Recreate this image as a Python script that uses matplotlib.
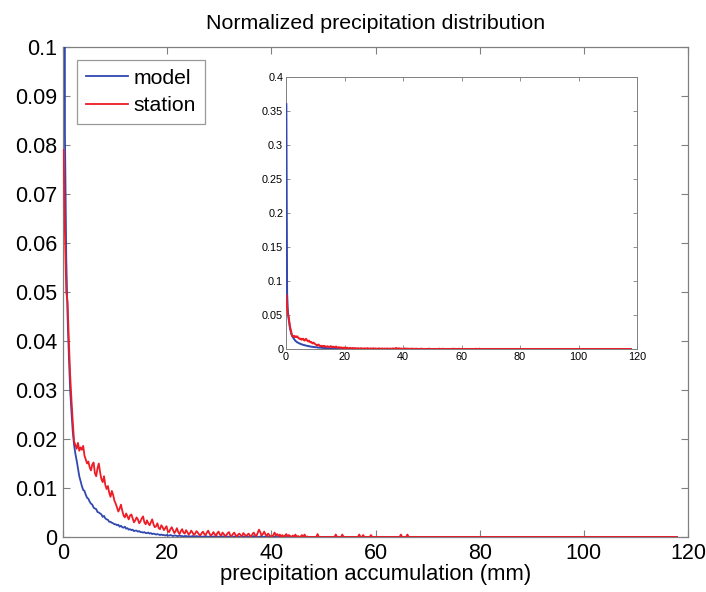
import numpy as np
import matplotlib
matplotlib.use("Agg")
import matplotlib.pyplot as plt

plt.rcParams['font.family'] = ['Liberation Sans', 'DejaVu Sans']

bin_width_mm = 0.25
x_max_mm = 118.0

# station histogram (units of 1e-4), bins of 0.25 mm from 0
station_e4 = [
    790, 620, 500, 480, 400, 330, 280, 235, 195, 188, 180, 192, 176, 183, 178, 186, 166, 158, 150, 154,
    142, 136, 148, 152, 130, 124, 140, 150, 132, 118, 112, 124, 106, 98, 104, 90, 82, 94, 86, 74,
    68, 60, 52, 58, 66, 54, 44, 40, 48, 42, 36, 44, 46, 38, 30, 34, 40, 36, 28, 32,
    38, 42, 30, 26, 34, 28, 24, 30, 36, 26, 20, 22, 28, 18, 16, 24, 20, 14, 18, 22,
    12, 10, 16, 20, 14, 8, 12, 18, 10, 6, 12, 16, 9, 7, 14, 10, 5, 8, 13, 9,
    4, 7, 12, 9, 5, 3, 8, 11, 6, 4, 9, 13, 7, 3, 5, 10, 6, 2, 8, 11,
    5, 3, 9, 6, 2, 4, 8, 10, 3, 2, 6, 9, 4, 1, 5, 7, 3, 2, 8, 5,
    2, 4, 7, 3, 1, 6, 9, 4, 2, 8, 15, 10, 3, 6, 11, 5, 2, 7, 4, 1,
    1, 4, 9, 3, 6, 2, 5, 1, 4, 0, 3, 6, 1, 4, 2, 0, 3, 1, 5, 0,
    2, 0, 1, 4, 0, 5, 0, 1, 0, 0, 0, 0, 0, 0, 0, 6, 0, 0, 0, 0,
    0, 0, 0, 0, 0, 0, 0, 0, 0, 5, 0, 0, 0, 0, 5, 0, 0, 0, 0, 0,
    0, 0, 0, 0, 0, 0, 0, 5, 0, 0, 4, 0, 0, 0, 0, 0, 4, 0, 0, 0,
    0, 0, 0, 0, 0, 0, 0, 0, 0, 0, 0, 0, 0, 0, 0, 0, 0, 0, 0, 5,
    0, 0, 0, 0, 5, 0, 0, 0, 0, 0, 0, 0, 0, 0, 0, 0, 0, 0, 0, 0,
]

# model histogram (units of 1e-4)
model_e4 = [
    3600, 820, 570, 450, 370, 300, 255, 215, 188, 170, 156, 140, 124, 114, 104, 96, 94, 86, 80, 78,
    72, 68, 66, 60, 58, 57, 51, 50, 48, 46, 41, 43, 38, 36, 35, 31, 31, 29, 28, 26,
    26, 24, 25, 21, 23, 20, 19, 21, 17, 18, 15, 16, 14, 15, 12, 13, 13, 11, 12, 10,
    10, 9, 10, 8, 8, 9, 7, 8, 6, 7, 6, 5, 6, 5, 4, 5, 4, 4, 3, 4,
    3, 3, 4, 3, 2, 3, 3, 2, 2, 3, 2, 2, 1, 2, 2, 1, 2, 1, 1, 2,
    1, 1, 2, 1, 1, 1, 0, 1, 1, 2, 1, 0, 1, 1, 0, 1, 1, 0, 1, 0,
    1, 0, 1, 1, 0, 0, 1, 0, 1, 0, 0, 1, 0, 0, 1, 0, 0, 0, 1, 0,
    0, 1, 0, 0, 1, 0, 2, 0, 1, 0, 0, 1, 2, 0, 0, 1, 0, 0, 1, 0,
    0, 0, 1, 0, 0, 0, 1, 0, 0, 0, 0, 0, 0, 0, 0, 0, 0, 0, 0, 0,
]

n_bins = int(round(x_max_mm / bin_width_mm))
x = (np.arange(n_bins) + 0.5) * bin_width_mm

def full(vals):
    v = np.zeros(n_bins)
    v[:len(vals)] = np.array(vals, dtype=float) / 1e4
    return v

station = full(station_e4)
model = full(model_e4)

BLUE = '#3048b0'
RED = '#ee1c25'
EDGE = '#808080'

fig = plt.figure(figsize=(7.06, 5.92), dpi=100)

W, H = 706, 592
def rect(l, t, r, b):
    return [l / W, (H - b) / H, (r - l) / W, (b - t) / H]

ax = fig.add_axes(rect(63, 47, 688, 537))
ax.plot(x, model, color=BLUE, lw=1.3, label='model', zorder=3)
ax.plot(x, station, color=RED, lw=1.3, label='station', zorder=3)
ax.set_xlim(0, 120)
ax.set_ylim(0, 0.1)
ax.set_xticks(np.arange(0, 121, 20))
ax.set_yticks(np.arange(0, 0.1001, 0.01))
ax.set_yticklabels(['0', '0.01', '0.02', '0.03', '0.04', '0.05', '0.06', '0.07', '0.08', '0.09', '0.1'])
ax.tick_params(direction='in', top=True, right=True, length=5, width=0.8,
               color=EDGE, labelsize=15.5, pad=4)
for s in ax.spines.values():
    s.set_color(EDGE)
    s.set_linewidth(0.9)
ax.set_xlabel('precipitation accumulation (mm)', fontsize=15.8, labelpad=0)
ax.set_title('Normalized precipitation distribution', fontsize=15.4, pad=13)
leg = ax.legend(loc='upper left', bbox_to_anchor=(0.0224, 0.9735), borderaxespad=0,
                fontsize=15.2, frameon=True, fancybox=False, handlelength=2.0,
                handletextpad=0.25, borderpad=0.42, labelspacing=0.4)
leg.get_frame().set_edgecolor(EDGE)
leg.get_frame().set_linewidth(0.9)
leg.set_zorder(5)

ins = fig.add_axes(rect(286, 77, 637, 349))
ins.plot(x, model, color=BLUE, lw=1.4, zorder=3)
ins.plot(x, station, color=RED, lw=1.4, zorder=3)
ins.set_xlim(0, 120)
ins.set_ylim(0, 0.4)
ins.set_xticks(np.arange(0, 121, 20))
ins.set_yticks(np.arange(0, 0.401, 0.05))
ins.set_yticklabels(['0', '0.05', '0.1', '0.15', '0.2', '0.25', '0.3', '0.35', '0.4'])
ins.tick_params(direction='in', top=True, right=True, length=3, width=0.6,
                color=EDGE, labelsize=7.8, pad=2)
for s in ins.spines.values():
    s.set_color(EDGE)
    s.set_linewidth(0.7)

fig.savefig('out.png', dpi=100)
